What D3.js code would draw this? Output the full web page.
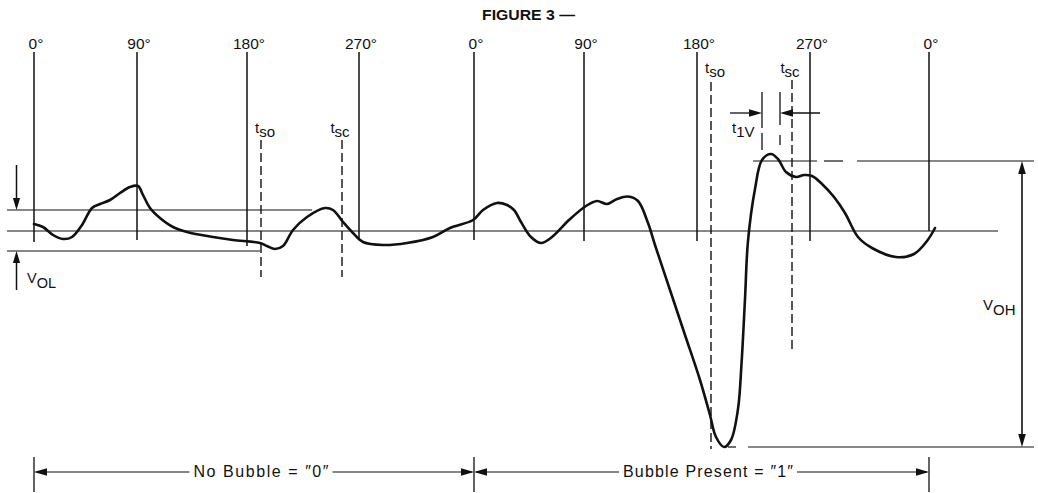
<!DOCTYPE html>
<html><head><meta charset="utf-8">
<script src="https://cdn.jsdelivr.net/npm/d3@7"></script>
<style>
html,body{margin:0;padding:0;background:#fff;}
svg{display:block;}
text{font-family:"Liberation Sans", Arial, Helvetica, sans-serif; fill:#111;}
</style>
</head><body>
<svg id="c" width="1038" height="493"></svg>
<script>
// ---------- data (time in arbitrary units, voltage in arbitrary units, 0 = reference level) ----------
const phaseLabels = ["0°","90°","180°","270°","0°","90°","180°","270°","0°"];
const phaseTimes  = [0, 103, 213, 325, 440, 550, 663, 776, 895];
const phaseLineLow = [-11, -9, -15, -9, -9, -10, -10, -10, 0];
const phaseLineTop = 179;

const waveT = [0,9,19,29,38,48,58,66,76,86,96,104,109,116,126,139,153,179,199,226,233,241,249,259,273,291,299,309,319,329,349,373,399,416,439,449,463,473,480,487,497,507,518,535,552,563,573,583,594,604,614,621,636,651,666,676,682,690,697,704,707.5,711,714,721,728,737,744,752,762,770,778,788,800,811,824,838,862,880,893,901];
const waveV = [7,4,-4,-8,-6,6,23,27,31,38,44,45,36,23,13,4,-1,-6,-9,-12,-15,-18,-15,1,14,23,21,9,-2,-11,-14,-12,-6,3,11,21,28,26,21,9,-6,-12,-6,11,25,30,27,32,34.5,30,8,-14,-59,-104,-149,-184,-206,-216,-209,-178,-133,-68,-10,42,71,77,72,59,54,56,55,47,34,18,-6,-17,-26,-23,-10,3];

const refLine = [-27, 964];            // reference level span
const volLevels = [21, -20];           // V_OL band
const volEnds = [278, 226];
const volArrowT = -17.5;
const vohLevels = [70, -216];          // V_OH high and low levels
const vohTopSegs = [[719,783],[790,809],[823,1000]];
const vohLowSegs = [[694,702],[714,1000]];
const vohArrowT = 988;

const strobeSubs   = ["so","sc","so","sc"];
const strobeTimes  = [227, 308, 677, 758];
const strobeTop    = [91, 91, 149, 151];
const strobeBottom = [-46, -46, -218, -121];
const strobeLabelV = [98, 98, 158, 158];

const windowTimes = [728, 746];        // t1V window edges

const bitLabels = ["No Bubble = \u20330\u2033", "Bubble Present = \u20331\u2033"];
const bitEdges  = [0, 440, 895];
const bitLabelCenters = [227, 674];
const bitLabelWidths  = [135, 170];
const bitLineV = -241;

// ---------- scales ----------
const x = d3.scaleLinear().domain([0, 895]).range([34, 929]);
const y = d3.scaleLinear().domain([-231, 231]).range([462, 0]);

const svg = d3.select("#c");
const ink = "#111";

function seg(t1, v1, t2, v2, w, dash) {
  const l = svg.append("line")
    .attr("x1", x(t1)).attr("y1", y(v1)).attr("x2", x(t2)).attr("y2", y(v2))
    .attr("stroke", ink).attr("stroke-width", w || 1.3);
  if (dash) l.attr("stroke-dasharray", dash);
  return l;
}
function head(t, v, dir, len, half) {
  len = len || 12; half = half || 3.6;
  const px = x(t), py = y(v);
  let pts;
  if (dir === "right") pts = [[px,py],[px-len,py-half],[px-len,py+half]];
  if (dir === "left")  pts = [[px,py],[px+len,py-half],[px+len,py+half]];
  if (dir === "down")  pts = [[px,py],[px-half,py-len],[px+half,py-len]];
  if (dir === "up")    pts = [[px,py],[px-half,py+len],[px+half,py+len]];
  svg.append("path").attr("d", "M" + pts.map(p => p.join(",")).join("L") + "Z").attr("fill", ink);
}
function subText(px, py, main, sub, size, subDy, anchor) {
  const t = svg.append("text").attr("x", px).attr("y", py)
    .attr("font-size", size).attr("text-anchor", anchor || "start");
  t.append("tspan").text(main);
  t.append("tspan").attr("dy", subDy).text(sub);
  return t;
}

// title
svg.append("text").attr("x", 482).attr("y", 20).attr("font-size", 14.5)
  .attr("font-weight", "bold").attr("textLength", 93).attr("lengthAdjust", "spacingAndGlyphs")
  .text("FIGURE 3 \u2014");

// phase lines and labels
phaseTimes.forEach((t, i) => {
  seg(t, phaseLineTop, t, phaseLineLow[i], 1.5);
  svg.append("text").attr("x", x(t) + 2).attr("y", 49).attr("font-size", 15.5)
    .attr("text-anchor", "middle").text(phaseLabels[i]);
});

// reference line
seg(refLine[0], 0, refLine[1], 0, 1.2);

// V_OL band
volLevels.forEach((v, i) => seg(refLine[0], v, volEnds[i], v, 1.2));
seg(volArrowT, 66, volArrowT, volLevels[0] + 4, 1.5);
head(volArrowT, volLevels[0], "down");
seg(volArrowT, -59, volArrowT, volLevels[1] - 4, 1.5);
head(volArrowT, volLevels[1], "up");
subText(27, 283, "V", "OL", 14.5, 5);

// V_OH levels and arrow
vohTopSegs.forEach(s => seg(s[0], vohLevels[0], s[1], vohLevels[0], 1.2));
vohLowSegs.forEach(s => seg(s[0], vohLevels[1], s[1], vohLevels[1], 1.2));
seg(vohArrowT, vohLevels[0] - 4, vohArrowT, vohLevels[1] + 4, 1.6);
head(vohArrowT, vohLevels[0], "up", 13, 3.8);
head(vohArrowT, vohLevels[1], "down", 13, 3.8);
subText(983, 310, "V", "OH", 15, 5);

// strobe (dashed) lines
strobeTimes.forEach((t, i) => {
  seg(t, strobeTop[i], t, strobeBottom[i], 1.4, "9,4");
  subText(x(t) + (strobeSubs[i] === "so" ? 4 : -2), y(strobeLabelV[i]), "t", strobeSubs[i], 15, 4, "middle");
});

// t1V window
seg(windowTimes[0], 139, windowTimes[0], 103, 1.3);
seg(windowTimes[0], 98, windowTimes[0], 81, 1.3);
seg(windowTimes[1], 139, windowTimes[1], 106, 1.3);
seg(windowTimes[1], 96, windowTimes[1], 86, 1.3);
seg(windowTimes[0] - 32, 118, windowTimes[0] - 4, 118, 1.3);
head(windowTimes[0], 118, "right", 13, 3.8);
seg(windowTimes[1] + 40, 118, windowTimes[1] + 4, 118, 1.3);
head(windowTimes[1], 118, "left", 13, 3.8);
subText(732, 133, "t", "1V", 15, 4);

// waveform
const wave = waveT.map((t, i) => ({t, v: waveV[i]}));
svg.append("path").datum(wave)
  .attr("d", d3.line().x(d => x(d.t)).y(d => y(d.v)).curve(d3.curveCatmullRom.alpha(0.5)))
  .attr("fill", "none").attr("stroke", ink).attr("stroke-width", 2.6)
  .attr("stroke-linejoin", "round").attr("stroke-linecap", "round");

// bit-period dimension line
bitEdges.forEach(t => seg(t, -226, t, -261, 1.3));
bitLabels.forEach((lab, i) => {
  const a = bitEdges[i], b = bitEdges[i + 1];
  const c = bitLabelCenters[i], hw = bitLabelWidths[i] / 2;
  seg(a + 2, bitLineV, c - hw - 4, bitLineV, 1.2);
  seg(c + hw + 4, bitLineV, b - 2, bitLineV, 1.2);
  head(a, bitLineV, "left", 13, 3.8);
  head(b, bitLineV, "right", 13, 3.8);
  svg.append("text").attr("x", x(c)).attr("y", y(bitLineV) + 5).attr("font-size", 16)
    .attr("text-anchor", "middle").attr("textLength", bitLabelWidths[i]).attr("lengthAdjust", "spacing")
    .text(lab);
});
</script>
</body></html>
